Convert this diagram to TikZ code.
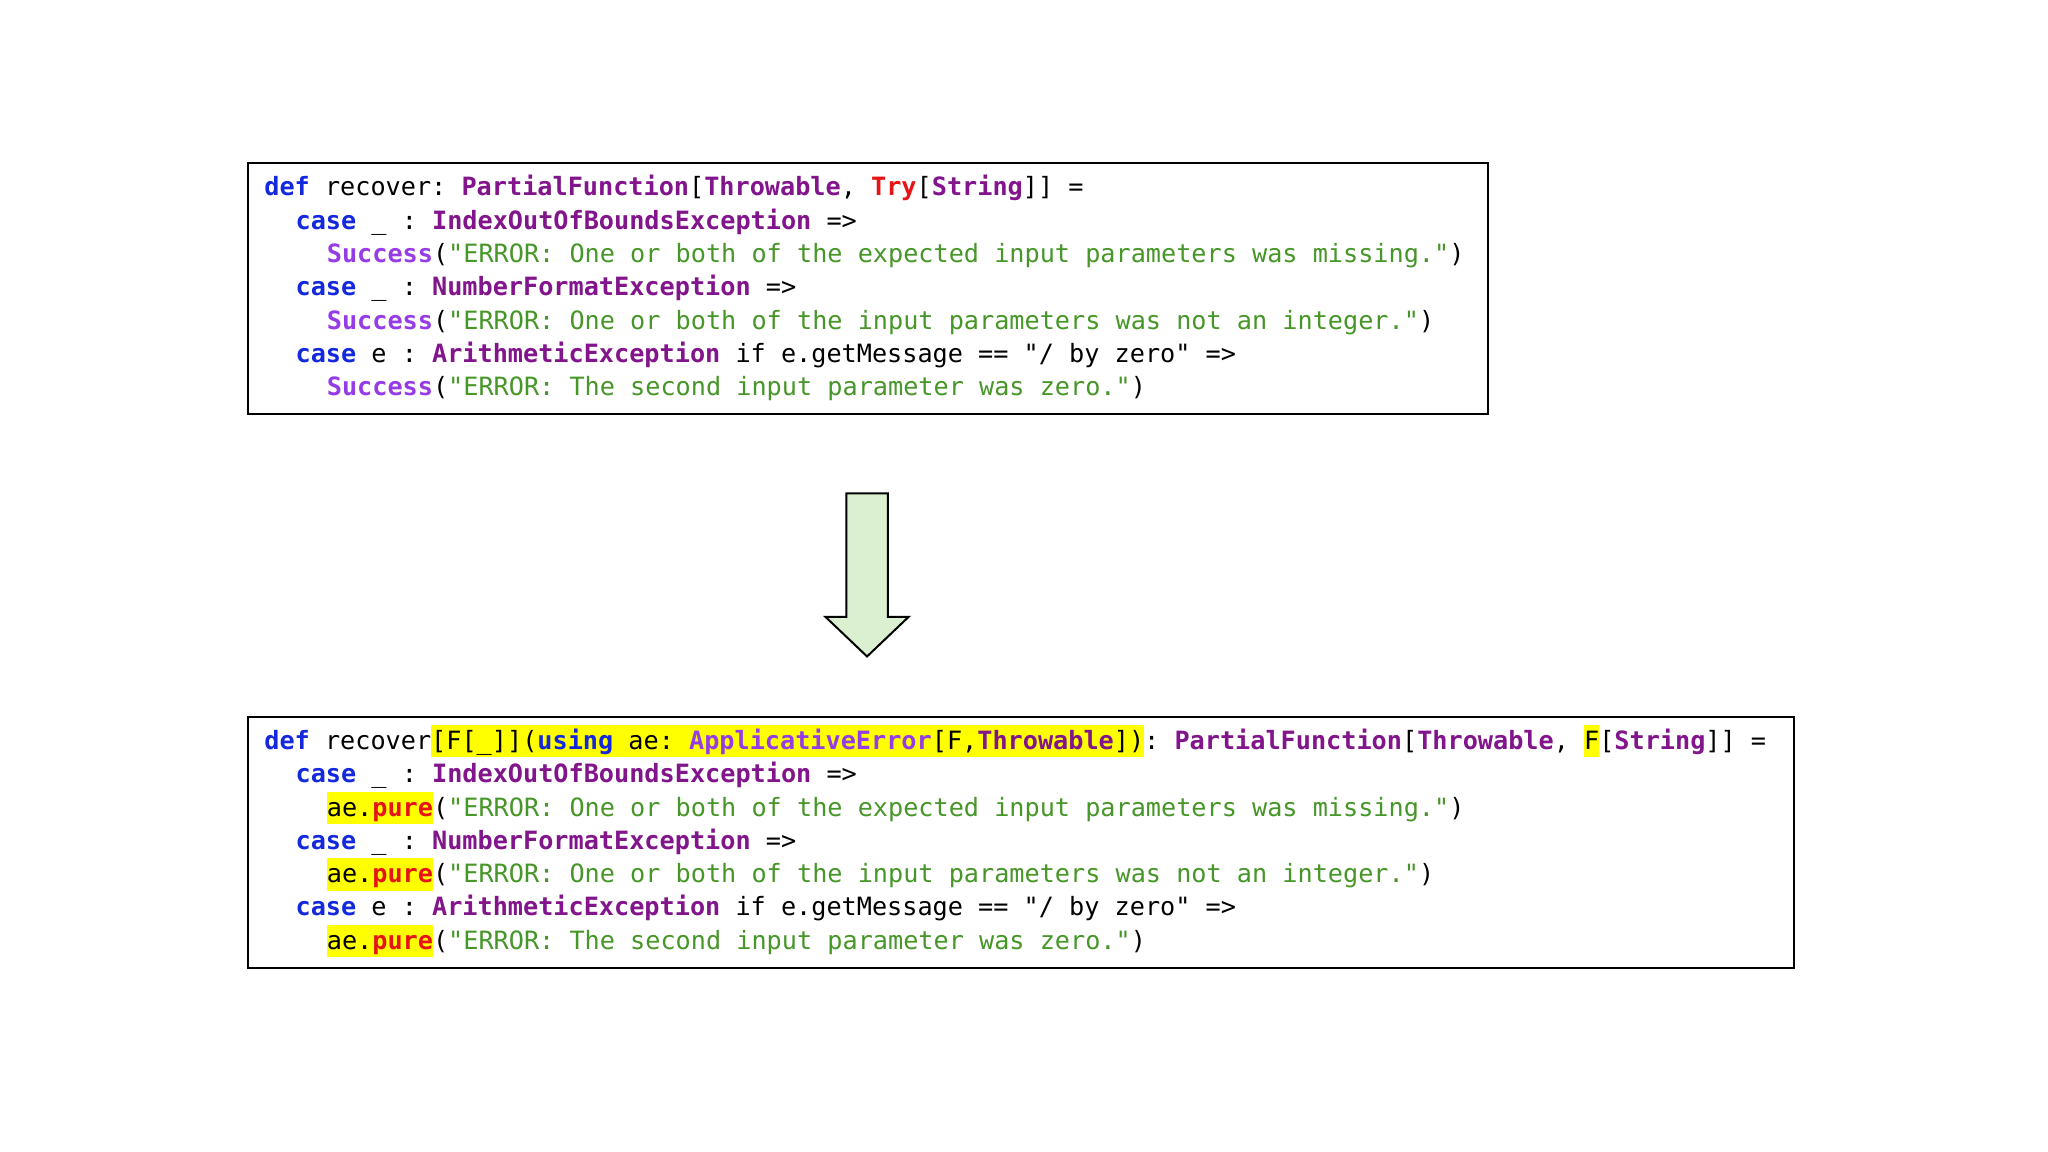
\documentclass[tikz,border=0pt]{standalone}
\usepackage{fontspec}
\setmonofont{DejaVu Sans Mono}
\definecolor{kw}{RGB}{20,40,220}
\definecolor{ty}{RGB}{130,20,140}
\definecolor{su}{RGB}{150,60,230}
\definecolor{st}{RGB}{70,150,40}
\definecolor{rd}{RGB}{230,20,20}
\definecolor{hy}{RGB}{255,255,0}
\definecolor{arrowfill}{RGB}{218,240,208}
\newcommand{\K}[1]{\textcolor{kw}{\bfseries #1}}
\newcommand{\T}[1]{\textcolor{ty}{\bfseries #1}}
\newcommand{\U}[1]{\textcolor{su}{\bfseries #1}}
\newcommand{\Sg}[1]{\textcolor{st}{#1}}
\newcommand{\R}[1]{\textcolor{rd}{\bfseries #1}}
\newcommand{\HL}[1]{{\setlength{\fboxsep}{0pt}\colorbox{hy}{\rule[-4pt]{0pt}{16.2pt}#1}}}
\tikzset{code/.style={anchor=base west,inner sep=0pt,font=\ttfamily\fontsize{12.6}{16}\selectfont},
  frame/.style={draw=black,line width=1pt}}
\begin{document}
\begin{tikzpicture}[x=0.4944pt,y=-0.4944pt]
\useasboundingbox (0,0) rectangle (2071.5,1165);
\fill[white] (0,0) rectangle (2071.5,1165);
% top box
\draw[frame] (251,165) rectangle (1505,419);
\node[code] (l1) at (267,198) {\K{def} recover: \T{PartialFunction}[\T{Throwable}, \R{Try}[\T{String}]] =};
\node[code] (l2) at (298.6,231.7) {\K{case} \_ : \T{IndexOutOfBoundsException} =>};
\node[code] (l3) at (330.2,265.4) {\U{Success}(\Sg{"ERROR: One or both of the expected input parameters was missing."})};
\node[code] (l4) at (298.6,299.1) {\K{case} \_ : \T{NumberFormatException} =>};
\node[code] (l5) at (330.2,332.8) {\U{Success}(\Sg{"ERROR: One or both of the input parameters was not an integer."})};
\node[code] (l6) at (298.6,366.5) {\K{case} e : \T{ArithmeticException} if e.getMessage == "/ by zero" =>};
\node[code] (l7) at (330.2,400.2) {\U{Success}(\Sg{"ERROR: The second input parameter was zero."})};
% arrow
\draw[fill=arrowfill,line width=1pt,line join=miter] (856,499) -- (898,499) -- (898,624) -- (919,624) -- (877,664) -- (835,624) -- (856,624) -- cycle;
% bottom box
\draw[frame] (251,725) rectangle (1815,979);
\node[code] (m1) at (267,758) {\K{def} recover\HL{[F[\_]](\K{using} ae: \U{ApplicativeError}[F,\T{Throwable}])}: \T{PartialFunction}[\T{Throwable}, \HL{F}[\T{String}]] =};
\node[code] (m2) at (298.6,791.7) {\K{case} \_ : \T{IndexOutOfBoundsException} =>};
\node[code] (m3) at (330.2,825.4) {\HL{ae.\R{pure}}(\Sg{"ERROR: One or both of the expected input parameters was missing."})};
\node[code] (m4) at (298.6,859.1) {\K{case} \_ : \T{NumberFormatException} =>};
\node[code] (m5) at (330.2,892.8) {\HL{ae.\R{pure}}(\Sg{"ERROR: One or both of the input parameters was not an integer."})};
\node[code] (m6) at (298.6,926.5) {\K{case} e : \T{ArithmeticException} if e.getMessage == "/ by zero" =>};
\node[code] (m7) at (330.2,960.2) {\HL{ae.\R{pure}}(\Sg{"ERROR: The second input parameter was zero."})};
\end{tikzpicture}
\end{document}
